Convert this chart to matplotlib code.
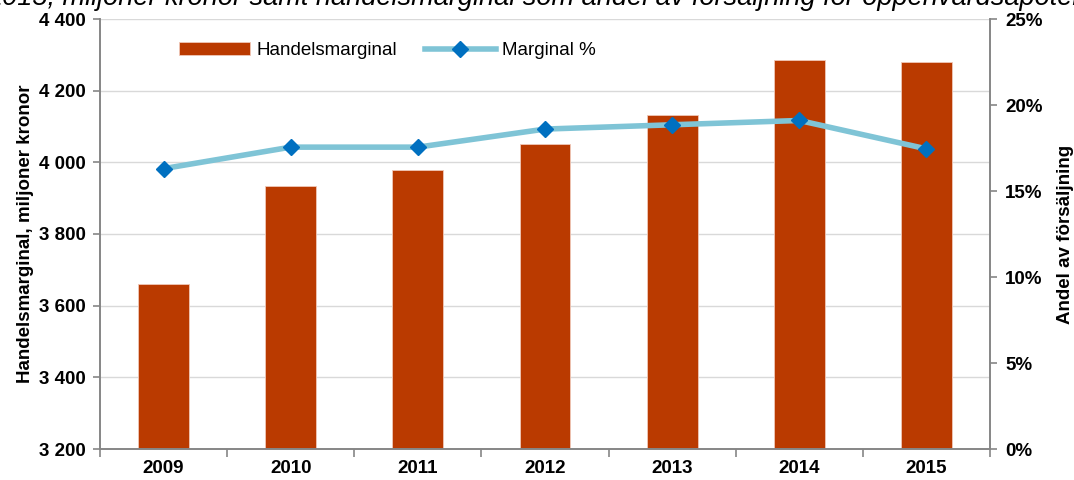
import matplotlib
matplotlib.use("Agg")
import matplotlib.pyplot as plt
from matplotlib.ticker import FuncFormatter, MultipleLocator, FixedLocator

plt.rcParams['font.family'] = ['Liberation Sans', 'DejaVu Sans']

years = ["2009", "2010", "2011", "2012", "2013", "2014", "2015"]
handelsmarginal = [3660, 3935, 3980, 4050, 4132, 4285, 4280]
marginal_pct = [16.3, 17.55, 17.55, 18.6, 18.85, 19.1, 17.45]
title_text = "2015, miljoner kronor samt handelsmarginal som andel av försäljning för öppenvårdsapoteken"

FS = 13.5
fig = plt.figure(figsize=(10.74, 4.8), dpi=100)
ax = fig.add_axes([100/1074, 1-449/480, 890/1074, 430/480])
ax2 = ax.twinx()

x = list(range(len(years)))
bar_color = "#BA3A00"
ax.bar(x, handelsmarginal, width=0.4, color=bar_color, edgecolor="#f0c8b8", linewidth=0.6,
       label="Handelsmarginal", zorder=2)
ax.set_ylim(3200, 4400)
ax.set_xlim(-0.5, 6.5)
ax.yaxis.set_major_locator(MultipleLocator(200))
ax.yaxis.set_major_formatter(FuncFormatter(lambda v, p: f"{int(v):,}".replace(",", " ")))
ax.grid(axis='y', color="#d9d9d9", linewidth=1.0, zorder=0)
ax.set_axisbelow(True)

ax2.plot(x, marginal_pct, color="#7fc4d6", linewidth=4, marker="D", markersize=8,
         markerfacecolor="#0070C0", markeredgecolor="#0070C0", label="Marginal %", zorder=3)
ax2.set_ylim(0, 25)
ax2.yaxis.set_major_locator(MultipleLocator(5))
ax2.yaxis.set_major_formatter(FuncFormatter(lambda v, p: f"{int(v)}%"))

ax.set_xticks(x)
ax.set_xticklabels(years)
ax.xaxis.set_minor_locator(FixedLocator([i + 0.5 for i in range(-1, 7)]))
ax.tick_params(axis='x', which='major', length=0, pad=8)
ax.tick_params(axis='x', which='minor', length=6, color="#868686", width=1.2)

for a in (ax, ax2):
    a.spines['top'].set_visible(False)
    for s in ('left', 'right', 'bottom'):
        a.spines[s].set_color("#868686")
        a.spines[s].set_linewidth(1.2)
ax.tick_params(axis='y', length=5, color="#868686", width=1.2, pad=5)
ax2.tick_params(axis='y', length=5, color="#868686", width=1.2, pad=6)
for lbl in ax.get_yticklabels() + ax.get_xticklabels() + ax2.get_yticklabels():
    lbl.set_fontweight('bold')
    lbl.set_fontsize(FS)

ax.set_ylabel("Handelsmarginal, miljoner kronor", fontsize=FS, fontweight='bold', labelpad=4)
ax2.set_ylabel("Andel av försäljning", fontsize=FS, fontweight='bold', labelpad=10)

h1, l1 = ax.get_legend_handles_labels()
h2, l2 = ax2.get_legend_handles_labels()
leg = ax.legend(h1 + h2, l1 + l2, ncol=2, frameon=False, fontsize=FS,
                loc='upper left', bbox_to_anchor=(0.07, 0.985), columnspacing=1.5,
                handlelength=3.8, handletextpad=0.3)

fig.text(-0.012, 1 - 5/480, title_text, fontsize=19.5, style='italic', ha='left', va='baseline')

fig.savefig("out.png", dpi=100)
